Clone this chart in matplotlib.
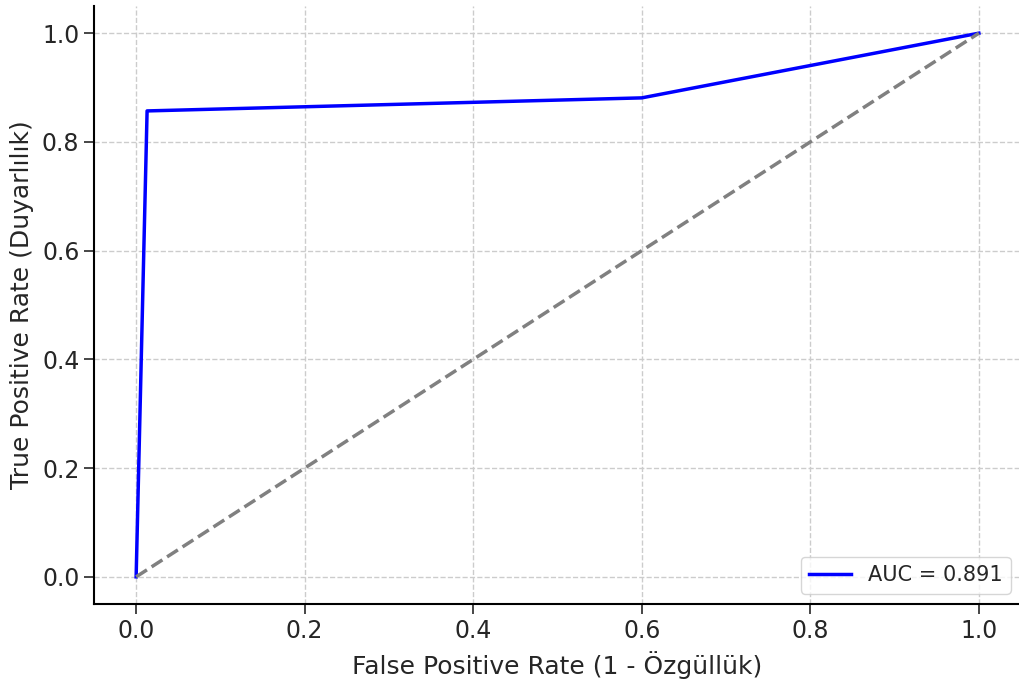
import matplotlib.pyplot as plt

fpr = [0.0, 0.013, 0.6, 1.0]
tpr = [0.0, 0.857, 0.881, 1.0]
auc_label = 'AUC = 0.891'
diag = [0.0, 1.0]

plt.rcParams['text.color'] = '#262626'
plt.rcParams['axes.labelcolor'] = '#262626'
plt.rcParams['xtick.color'] = '#262626'
plt.rcParams['ytick.color'] = '#262626'

fig = plt.figure(figsize=(10.19, 6.82), dpi=100)
ax = fig.add_axes([94 / 1019, 78 / 682, 927 / 1019, 598 / 682])

ax.plot(fpr, tpr, color='blue', lw=2.5, label=auc_label)
ax.plot(diag, diag, color='gray', lw=2.5, linestyle='--')

ax.set_xlabel('False Positive Rate (1 - Özgüllük)', fontsize=18, labelpad=6)
ax.set_ylabel('True Positive Rate (Duyarlılık)', fontsize=18, labelpad=6)
ax.tick_params(labelsize=17, length=7, width=1.2)
ax.grid(True, linestyle='--', color='#cccccc', linewidth=1)
ax.spines['top'].set_visible(False)
ax.spines['right'].set_visible(False)
ax.spines['left'].set_linewidth(1.5)
ax.spines['bottom'].set_linewidth(1.5)
ax.legend(loc='lower right', fontsize=15)

fig.savefig('out.png')
